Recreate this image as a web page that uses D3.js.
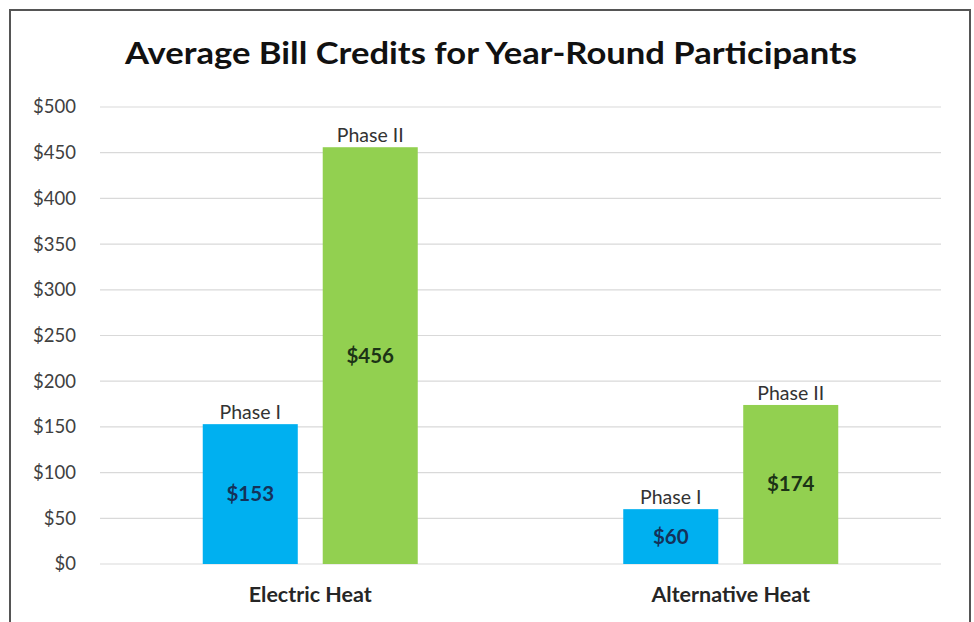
<!DOCTYPE html>
<html><head><meta charset="utf-8">
<script src="https://cdn.jsdelivr.net/npm/d3@7"></script>
<style>body{margin:0;background:#fff}svg{display:block}</style>
</head><body>
<svg id="c" width="974" height="622"></svg>
<script>
const categories = ["Electric Heat", "Alternative Heat"];
const phases = ["Phase I", "Phase II"];
const phaseI = [153, 60];
const phaseII = [456, 174];
const yTicks = [0, 50, 100, 150, 200, 250, 300, 350, 400, 450, 500];
const title = "Average Bill Credits for Year-Round Participants";

(function () {
const colors = {"Phase I": "#00b0f0", "Phase II": "#92d050"};
const valColors = {"Phase I": "#14325a", "Phase II": "#1c3316"};
const font = "Lato, 'Open Sans', sans-serif";

const svg = d3.select("#c");
svg.append("rect").attr("x", 0).attr("y", 0).attr("width", 974).attr("height", 622).attr("fill", "#fff");
svg.append("rect").attr("x", 10).attr("y", 10).attr("width", 960).attr("height", 620)
  .attr("fill", "none").attr("stroke", "#555").attr("stroke-width", 2);

const pl = 100, pr = 941, pt = 107, pb = 564;
const y = d3.scaleLinear().domain([0, 500]).range([pb, pt]);
const x0 = d3.scaleBand().domain(categories).range([pl, pr]).paddingInner(0.4887).paddingOuter(0.4887 / 2);
const x1 = d3.scaleBand().domain(phases).range([0, x0.bandwidth()]).paddingInner(0.208);

svg.append("g").selectAll("line").data(yTicks).join("line")
  .attr("x1", pl).attr("x2", pr)
  .attr("y1", d => y(d)).attr("y2", d => y(d))
  .attr("stroke", "#d9d9d9").attr("stroke-width", 1.2);

const yAxis = d3.axisLeft(y).tickValues(yTicks).tickFormat(d => "$" + d).tickSize(0).tickPadding(0);
const ga = svg.append("g").attr("transform", `translate(76,0)`).call(yAxis);
ga.select(".domain").remove();
ga.selectAll("text").attr("font-family", font).attr("font-size", 18.5).attr("fill", "#404040");

svg.append("text").attr("x", 491).attr("y", 64).attr("text-anchor", "middle")
  .attr("font-family", font).attr("font-weight", "bold").attr("font-size", 29.5)
  .attr("fill", "#111").attr("textLength", 732).attr("lengthAdjust", "spacingAndGlyphs").text(title);

const data = [];
categories.forEach((c, i) => {
  data.push({cat: c, phase: "Phase I", value: phaseI[i]});
  data.push({cat: c, phase: "Phase II", value: phaseII[i]});
});

const g = svg.append("g");
g.selectAll("rect.bar").data(data).join("rect").attr("class", "bar")
  .attr("x", d => x0(d.cat) + x1(d.phase))
  .attr("width", x1.bandwidth())
  .attr("y", d => y(d.value))
  .attr("height", d => y(0) - y(d.value))
  .attr("fill", d => colors[d.phase]);

g.selectAll("text.ph").data(data).join("text").attr("class", "ph")
  .attr("x", d => x0(d.cat) + x1(d.phase) + x1.bandwidth() / 2)
  .attr("y", d => y(d.value) - 5)
  .attr("text-anchor", "middle").attr("font-family", font).attr("font-size", 19.5)
  .attr("fill", "#333").text(d => d.phase);

g.selectAll("text.val").data(data).join("text").attr("class", "val")
  .attr("x", d => x0(d.cat) + x1(d.phase) + x1.bandwidth() / 2)
  .attr("y", d => (y(d.value) + y(0)) / 2 + 7)
  .attr("text-anchor", "middle").attr("font-family", font).attr("font-weight", "bold").attr("font-size", 20.5)
  .attr("fill", d => valColors[d.phase]).text(d => "$" + d.value);

svg.append("g").selectAll("text").data(categories).join("text")
  .attr("x", d => x0(d) + x0.bandwidth() / 2).attr("y", 602)
  .attr("text-anchor", "middle").attr("font-family", font).attr("font-weight", "bold").attr("font-size", 21.5)
  .attr("fill", "#262626").text(d => d);
})();
</script>
</body></html>
